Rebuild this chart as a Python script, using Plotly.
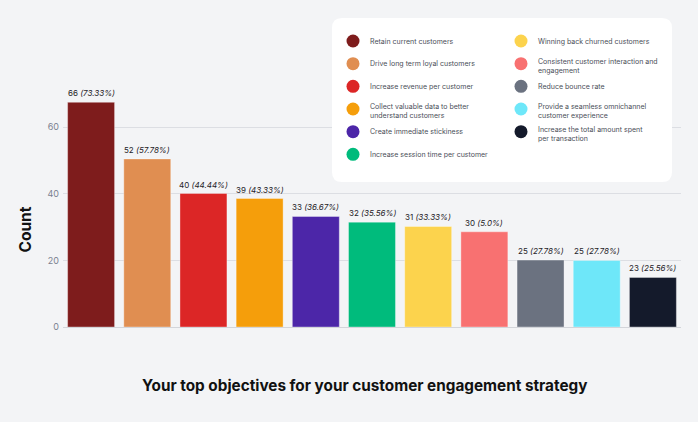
import plotly.graph_objects as go

# categories (legend text, explicit line breaks as in the original legend)
categories = [
    'Retain current customers',
    'Drive long term loyal customers',
    'Increase revenue per customer',
    'Collect valuable data to better<br>understand customers',
    'Create immediate stickiness',
    'Increase session time per customer',
    'Winning back churned customers',
    'Consistent customer interaction and<br>engagement',
    'Reduce bounce rate',
    'Provide a seamless omnichannel<br>customer experience',
    'Increase the total amount spent<br>per transaction',
]
# bar heights as drawn on the axis
bar_heights = [67.5, 50.5, 40.1, 38.6, 33.2, 31.5, 30.2, 28.6, 20.1, 20.0, 14.9]
# printed labels
counts = [66, 52, 40, 39, 33, 32, 31, 30, 25, 25, 23]
percents = ['73.33%', '57.78%', '44.44%', '43.33%', '36.67%', '35.56%',
            '33.33%', '5.0%', '27.78%', '27.78%', '25.56%']
colors = ['#7e1c1c', '#e08e51', '#dc2626', '#f59e0b', '#4c26a8', '#00bb7c',
          '#fcd34d', '#f87171', '#6b7280', '#6ee7f9', '#141a2b']
y_ticks = [0, 20, 40, 60]

W, H = 698, 422
L, R, T, B = 63, 17, 94, 95
PW, PH = W - L - R, H - T - B
FONT = 'Inter'
BG = '#f3f4f6'


def px_x(p):
    return (p - L) / PW


def px_y(p):
    return (H - B - p) / PH


fig = go.Figure()
fig.add_trace(go.Bar(
    x=categories, y=bar_heights,
    marker=dict(color=colors, line=dict(color='rgba(255,255,255,0.35)', width=1)),
    showlegend=False, hoverinfo='skip',
))

annotations = []
for c, h, n, p in zip(categories, bar_heights, counts, percents):
    annotations.append(dict(
        x=c, y=h, xref='x', yref='y', text=f'{n} <i>({p})</i>',
        showarrow=False, yanchor='middle', yshift=9,
        font=dict(family=FONT, size=8, color='#1f2328'),
    ))

# legend box with rounded corners
x0, x1, y0, y1, r = 332, 672, 18, 182, 10
pts = [('M', x0 + r, y0), ('L', x1 - r, y0), ('Q', x1, y0, x1, y0 + r),
       ('L', x1, y1 - r), ('Q', x1, y1, x1 - r, y1), ('L', x0 + r, y1),
       ('Q', x0, y1, x0, y1 - r), ('L', x0, y0 + r), ('Q', x0, y0, x0 + r, y0)]
path = ''
for seg in pts:
    cmd, vals = seg[0], seg[1:]
    coords = []
    for i in range(0, len(vals), 2):
        coords.append(f'{px_x(vals[i]):.5f},{px_y(vals[i + 1]):.5f}')
    path += cmd + ' '.join(coords) + ' '
path += 'Z'

shapes = [dict(type='path', path=path, xref='paper', yref='paper',
               fillcolor='white', line=dict(width=0), layer='above')]

for i, (c, col) in enumerate(zip(categories, colors)):
    column, row = divmod(i, 6)
    cx = 353 if column == 0 else 521
    tx = 368 if column == 0 else 536
    cy = 41 + row * 22.66
    shapes.append(dict(
        type='circle', xref='paper', yref='paper',
        xsizemode='pixel', ysizemode='pixel',
        xanchor=px_x(cx), yanchor=px_y(cy),
        x0=-6.5, x1=6.5, y0=-6.5, y1=6.5,
        fillcolor=col, line=dict(width=0), layer='above',
    ))
    lines = c.split('<br>')
    first = cy if len(lines) == 1 else cy - 2
    for k, ln in enumerate(lines):
        annotations.append(dict(
            x=px_x(tx), y=px_y(first + k * 8.7), xref='paper', yref='paper',
            text=ln, showarrow=False, xanchor='left', yanchor='middle',
            font=dict(family=FONT, size=7, color='#4a4e58'),
        ))

annotations.append(dict(
    x=px_x(364), y=px_y(385), xref='paper', yref='paper',
    text='<b>Your top objectives for your customer engagement strategy</b>',
    showarrow=False, xanchor='center', yanchor='middle',
    font=dict(family=FONT, size=15.3, color='#111111'),
))
annotations.append(dict(
    x=px_x(25), y=px_y(229.5), xref='paper', yref='paper',
    text='<b>Count</b>', textangle=-90,
    showarrow=False, xanchor='center', yanchor='middle',
    font=dict(family=FONT, size=15.5, color='#111111'),
))

fig.update_layout(
    width=W, height=H,
    margin=dict(l=L, r=R, t=T, b=B),
    paper_bgcolor=BG, plot_bgcolor=BG,
    bargap=0.164,
    xaxis=dict(showticklabels=False, showgrid=False, zeroline=False, ticks=''),
    yaxis=dict(range=[0, 70], tickvals=y_ticks, showgrid=True,
               gridcolor='#dcdee3', gridwidth=1, zeroline=True,
               zerolinecolor='#d3d5da', zerolinewidth=1, ticks='',
               ticklabelstandoff=3,
               tickfont=dict(family=FONT, size=9, color='#7b8190')),
    shapes=shapes,
    annotations=annotations,
)

# remove the default page margin so the figure fills the window
fig.write_html('out.html', config={'displayModeBar': False}, post_script=(
    "document.body.style.margin='0';"
    f"document.body.style.background='{BG}';"
))
